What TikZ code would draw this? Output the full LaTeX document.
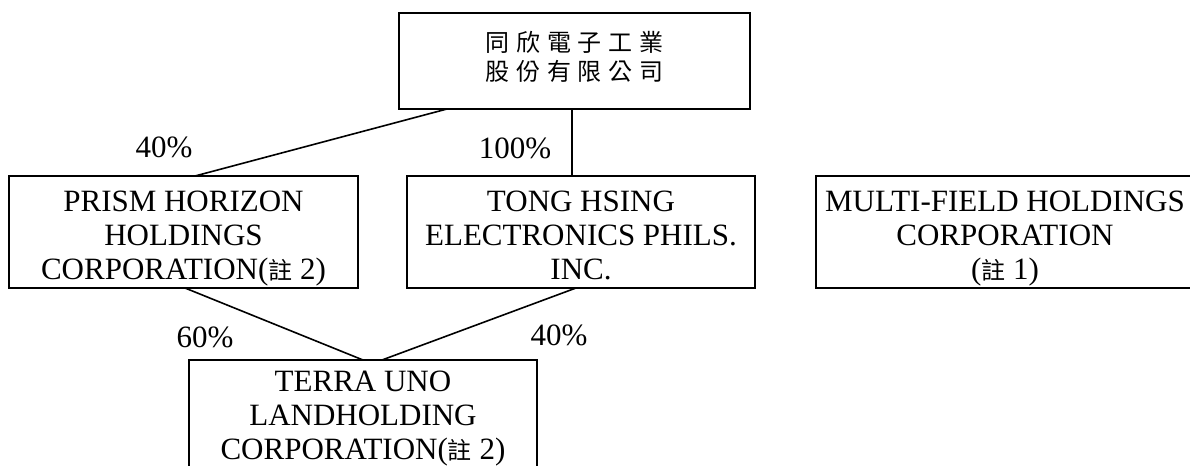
\documentclass[tikz,border=0pt]{standalone}
\usepackage{fontspec}
\setmainfont{Liberation Serif}
\newfontfamily\cjk{Noto Sans CJK TC}
\newfontfamily\cjkwide[LetterSpace=28]{Noto Sans CJK TC}
\usetikzlibrary{calc}
\newcommand{\zhu}{{\cjk\fontsize{12pt}{17pt}\selectfont 註}}

\begin{document}
\begin{tikzpicture} [x=0.5pt, y=-0.5pt,
    firm/.style={draw, line width=1pt, inner sep=0pt, outer sep=0pt, align=center,
      minimum height=56pt, text height=50.8pt, text depth=3pt,
      font=\fontsize{15.5pt}{17pt}\selectfont},
    share/.style={line width=0.8pt},
    pct/.style={font=\fontsize{15.5pt}{17pt}\selectfont, inner sep=0pt}]
\useasboundingbox (0,0) rectangle (1190,466);

\node[firm, minimum width=175.5pt, minimum height=48pt, text height=21.1pt, text depth=2pt,
  font=\cjkwide\fontsize{12pt}{14.25pt}\selectfont] (parent) at (574.5,61) {同欣電子工業\\股份有限公司};
\node[firm, minimum width=174.5pt] (prism) at (183.5,232) {PRISM HORIZON\\HOLDINGS\\CORPORATION(\zhu\ 2)};
\node[firm, minimum width=174pt] (tong) at (581,232) {TONG HSING\\ELECTRONICS PHILS.\\INC.};
\node[firm, minimum width=189pt] (multi) at (1005,232) {MULTI-FIELD HOLDINGS\\CORPORATION\\(\zhu\ 1)};
\node[firm, minimum width=174pt, text height=47.8pt, text depth=4pt] (terra) at (363,416) {TERRA UNO\\LANDHOLDING\\CORPORATION(\zhu\ 2)};

\draw[share] ($(parent.south west)+(48,0)$) -- ($(prism.north west)+(186,0)$);
\draw[share] ($(parent.south west)+(173,0)$) -- ($(tong.north west)+(165,0)$);
\draw[share] ($(prism.south west)+(176,0)$) -- (terra.north);
\draw[share] ($(tong.south west)+(169,0)$) -- ($(terra.north west)+(193,0)$);

\node[pct] (pprism) at (164,147) {40\%};
\node[pct] (ptong) at (515,148) {100\%};
\node[pct] (pterraA) at (205,337) {60\%};
\node[pct] (pterraB) at (559,335) {40\%};

\end{tikzpicture}
\end{document}
